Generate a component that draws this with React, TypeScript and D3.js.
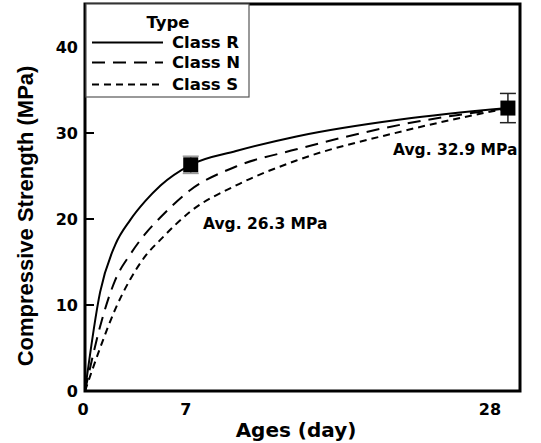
import React from 'react';
import * as d3 from 'd3';

const days = [0, 1, 2, 3, 4, 5, 7, 10, 14, 21, 28];
const classR = [0, 11.5, 17.0, 19.9, 22.1, 23.9, 26.3, 27.9, 29.6, 31.6, 32.9];
const classN = [0, 7.5, 12.9, 15.9, 18.3, 20.2, 23.4, 26.1, 28.1, 31.0, 32.9];
const classS = [0, 5.0, 9.5, 13.0, 15.7, 17.6, 20.9, 23.9, 26.8, 30.2, 32.9];

const testAges = [7, 28];
const testMeans = [26.3, 32.9];
const testErrors = [1.0, 1.7];

const xTicks = [0, 7, 28];
const yTicks = [0, 10, 20, 30, 40];

const seriesNames = ['Class R', 'Class N', 'Class S'];
const seriesDash = ['', '13,8', '7,5'];

const W = 541;
const H = 443;
const left = 85;
const right = 520;
const top = 4;
const bottom = 391;

const fontH = '"DejaVu Sans", sans-serif';

export default function App() {
  const x = d3.scaleLinear().domain([0, 28.8]).range([left, right]);
  const y = d3.scaleLinear().domain([0, 45]).range([bottom, top]);

  const line = d3
    .line<number>()
    .x((_, i) => x(days[i]))
    .y((d) => y(d))
    .curve(d3.curveMonotoneX);

  const series = [classR, classN, classS];

  return (
    <svg
      width={W}
      height={H}
      style={{ position: 'absolute', left: 0, top: 0, background: '#fff' }}
    >
      {/* curves */}
      {series.map((s, i) => (
        <path
          key={i}
          d={line(s) || ''}
          fill="none"
          stroke="#000"
          strokeWidth={2}
          strokeDasharray={seriesDash[i]}
        />
      ))}

      {/* measured averages with error bars */}
      {testAges.map((a, i) => {
        const cx = x(a);
        const hi = y(testMeans[i] + testErrors[i]);
        const lo = y(testMeans[i] - testErrors[i]);
        const c = i === 0 ? '#999' : '#222';
        return (
          <g key={a}>
            <line x1={cx} x2={cx} y1={hi} y2={lo} stroke={c} strokeWidth={1.5} />
            <line x1={cx - 8} x2={cx + 8} y1={hi} y2={hi} stroke={c} strokeWidth={1.5} />
            <line x1={cx - 8} x2={cx + 8} y1={lo} y2={lo} stroke={c} strokeWidth={1.5} />
            <rect x={cx - 7.5} y={y(testMeans[i]) - 7.5} width={15} height={15} fill="#000" />
          </g>
        );
      })}

      {/* frame */}
      <rect
        x={left}
        y={top}
        width={right - left}
        height={bottom - top}
        fill="none"
        stroke="#000"
        strokeWidth={3}
      />

      {/* y ticks */}
      {yTicks.map((t) => (
        <g key={t}>
          <line x1={left} x2={left + 9} y1={y(t)} y2={y(t)} stroke="#000" strokeWidth={2} />
          <text
            x={left - 7}
            y={y(t)}
            dy="0.36em"
            textAnchor="end"
            fontFamily={fontH}
            fontWeight="bold"
            fontSize={16}
          >
            {t}
          </text>
        </g>
      ))}

      {/* x tick labels */}
      {xTicks.map((t) => (
        <text
          key={t}
          x={x(t) - (t === 28 ? 18 : t === 7 ? 5 : 2)}
          y={415}
          textAnchor="middle"
          fontFamily={fontH}
          fontWeight="bold"
          fontSize={16}
        >
          {t}
        </text>
      ))}

      {/* axis titles */}
      <text
        x={296}
        y={437}
        textAnchor="middle"
        fontFamily={fontH}
        fontWeight="bold"
        fontSize={20}
      >
        Ages (day)
      </text>
      <text
        transform={`translate(33,216) rotate(-90)`}
        textAnchor="middle"
        fontFamily='"Liberation Sans", Arial, sans-serif'
        fontWeight="bold"
        fontSize={22}
      >
        Compressive Strength (MPa)
      </text>

      {/* annotations */}
      <text x={203} y={229} fontFamily={fontH} fontWeight="bold" fontSize={15.5}>
        Avg. 26.3 MPa
      </text>
      <text x={393} y={155} fontFamily={fontH} fontWeight="bold" fontSize={15.5}>
        Avg. 32.9 MPa
      </text>

      {/* legend */}
      <g>
        <rect x={86} y={4} width={163} height={93} fill="#fff" stroke="#555" strokeWidth={1.2} />
        <text x={168} y={28} textAnchor="middle" fontFamily={fontH} fontWeight="bold" fontSize={16.5}>
          Type
        </text>
        {seriesNames.map((n, i) => {
          const by = [48, 68, 90][i];
          return (
            <g key={n}>
              <line
                x1={92}
                x2={163}
                y1={by - 5.5}
                y2={by - 5.5}
                stroke="#000"
                strokeWidth={2}
                strokeDasharray={seriesDash[i]}
              />
              <text x={172} y={by} fontFamily={fontH} fontWeight="bold" fontSize={16.5}>
                {n}
              </text>
            </g>
          );
        })}
      </g>
    </svg>
  );
}
